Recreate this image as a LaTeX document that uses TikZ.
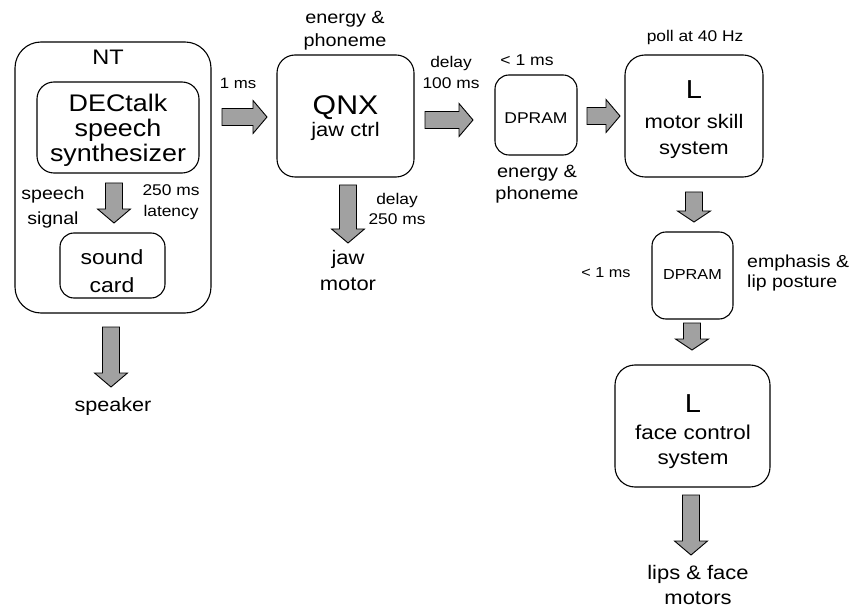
\documentclass[tikz,border=0pt]{standalone}
\usepackage{fontspec}
\setmainfont{Liberation Sans}[FakeStretch=1.12]
\usetikzlibrary{calc}
\newcommand\fsz[2]{\fontsize{#1pt}{#2pt}\selectfont}
\newcommand\ash{8.5pt}
\newcommand\ahh{16.5pt}
\newcommand\ahl{14pt}
\tikzset{
  bx/.style={draw=black, line width=1.1pt, fill=white, rounded corners=#1, inner sep=0pt},
  lbl/.style={inner sep=0pt, align=center},
  shaft/.code={\def\ash{#1}},
  headw/.code={\def\ahh{#1}},
  headl/.code={\def\ahl{#1}},
  blk/.style={draw=black, line width=0.9pt, fill=black!37, line join=miter},
  rarr/.style={blk, to path={let \p1=(\tikztostart), \p2=(\tikztotarget) in
     ({\x1},{\y1+\ash}) -- ({\x2-\ahl},{\y1+\ash}) -- ({\x2-\ahl},{\y1+\ahh}) -- (\x2,\y1)
     -- ({\x2-\ahl},{\y1-\ahh}) -- ({\x2-\ahl},{\y1-\ash}) -- ({\x1},{\y1-\ash}) -- cycle}},
  darr/.style={blk, to path={let \p1=(\tikztostart), \p2=(\tikztotarget) in
     ({\x1-\ash},{\y1}) -- ({\x1-\ash},{\y2+\ahl}) -- ({\x1-\ahh},{\y2+\ahl}) -- (\x1,\y2)
     -- ({\x1+\ahh},{\y2+\ahl}) -- ({\x1+\ash},{\y2+\ahl}) -- ({\x1+\ash},{\y1}) -- cycle}},
}
\begin{document}
\begin{tikzpicture}[x=1pt,y=-1pt]
\useasboundingbox (0,0) rectangle (853,609);
% boxes
\node[bx=26, minimum width=196pt, minimum height=271pt] (nt) at (113,177.5) {};
\node[bx=17, minimum width=162pt, minimum height=91pt] (dec) at (118,127.5) {};
\node[bx=14, minimum width=105pt, minimum height=65pt] (snd) at (112.5,265.5) {};
\node[bx=18, minimum width=137pt, minimum height=122pt] (qnx) at (345.5,116) {};
\node[bx=14, minimum width=82pt, minimum height=80pt] (dp1) at (536,115) {};
\node[bx=20, minimum width=138pt, minimum height=122pt] (lm) at (694,116) {};
\node[bx=14, minimum width=81pt, minimum height=87pt] (dp2) at (692.5,275.5) {};
\node[bx=20, minimum width=155pt, minimum height=122pt] (lf) at (692.5,426) {};
% box texts
\node[lbl, font=\fsz{21}{24}] (ntt) at (108,57) {NT};
\node[lbl, font=\fsz{24}{25}] (dect) at (118,130) {DECtalk\\speech\\synthesizer};
\node[lbl, font=\fsz{20.5}{28}] (sndt) at (112,271) {sound\\card};
\node[lbl, font=\fsz{19.6}{22}] (qnxt) at (345.5,118.5) {\fsz{27}{22}QNX\\jaw ctrl};
\node[lbl, font=\fsz{15.6}{18}] (dp1t) at (536,118) {DPRAM};
\node[lbl, font=\fsz{19.6}{26}] (lmt) at (694,120) {\fsz{26}{26}L\\[4pt]motor skill\\system};
\node[lbl, font=\fsz{14.5}{18}] (dp2t) at (692.5,275) {DPRAM};
\node[lbl, font=\fsz{20}{25}] (lft) at (693,432) {\fsz{26}{26}L\\[2pt]face control\\system};
% labels
\node[lbl, font=\fsz{17.5}{25}] (sig) at (53,207) {speech\\signal};
\node[lbl, font=\fsz{15.5}{21}] (lat) at (171,202) {250 ms\\latency};
\node[lbl, font=\fsz{19.3}{23}] (spk) at (113,407) {speaker};
\node[lbl, font=\fsz{15}{18}] (l1) at (238,83) {1 ms};
\node[lbl, font=\fsz{17.7}{23}] (ep1) at (345,31) {energy \&\\phoneme};
\node[lbl, font=\fsz{15.5}{20}] (d250) at (397,209) {delay\\250 ms};
\node[lbl, font=\fsz{19.6}{26}] (jaw) at (348,270) {jaw\\motor};
\node[lbl, font=\fsz{15.5}{21}] (d100) at (451,72) {delay\\100 ms};
\node[lbl, font=\fsz{15.7}{18}] (lt1) at (527,60) {< 1 ms};
\node[lbl, font=\fsz{17.8}{22}] (ep2) at (537,184) {energy \&\\phoneme};
\node[lbl, font=\fsz{15.5}{18}] (poll) at (695,37) {poll at 40 Hz};
\node[lbl, font=\fsz{14.5}{18}] (lt2) at (606,273) {< 1 ms};
\node[lbl, font=\fsz{17.4}{20}, align=left, anchor=west] (emph) at (747,273) {emphasis \&\\lip posture};
\node[lbl, font=\fsz{19.6}{25}] (lips) at (698,585) {lips \& face\\motors};
% arrow end points
\coordinate (a0s) at (114,183); \coordinate (a0e) at (114,223);
\coordinate (asks) at (111,327); \coordinate (aske) at (111,387);
\coordinate (a1s) at (222,117); \coordinate (a1e) at (267,117);
\coordinate (ajs) at (348,185); \coordinate (aje) at (348,243);
\coordinate (a2s) at (425,120); \coordinate (a2e) at (473,120);
\coordinate (a3s) at (587,116); \coordinate (a3e) at (620,116);
\coordinate (a4s) at (694,192); \coordinate (a4e) at (694,222);
\coordinate (a5s) at (692,323); \coordinate (a5e) at (692,350);
\coordinate (a6s) at (691,495); \coordinate (a6e) at (691,555);
% block arrows
\draw[darr] (a0s) to (a0e);
\draw[darr] (asks) to (aske);
\draw[rarr] (a1s) to (a1e);
\draw[darr] (ajs) to (aje);
\draw[rarr] (a2s) to (a2e);
\draw[rarr] (a3s) to (a3e);
\draw[darr, headl=11pt] (a4s) to (a4e);
\draw[darr, headl=11pt] (a5s) to (a5e);
\draw[darr] (a6s) to (a6e);
\end{tikzpicture}
\end{document}
